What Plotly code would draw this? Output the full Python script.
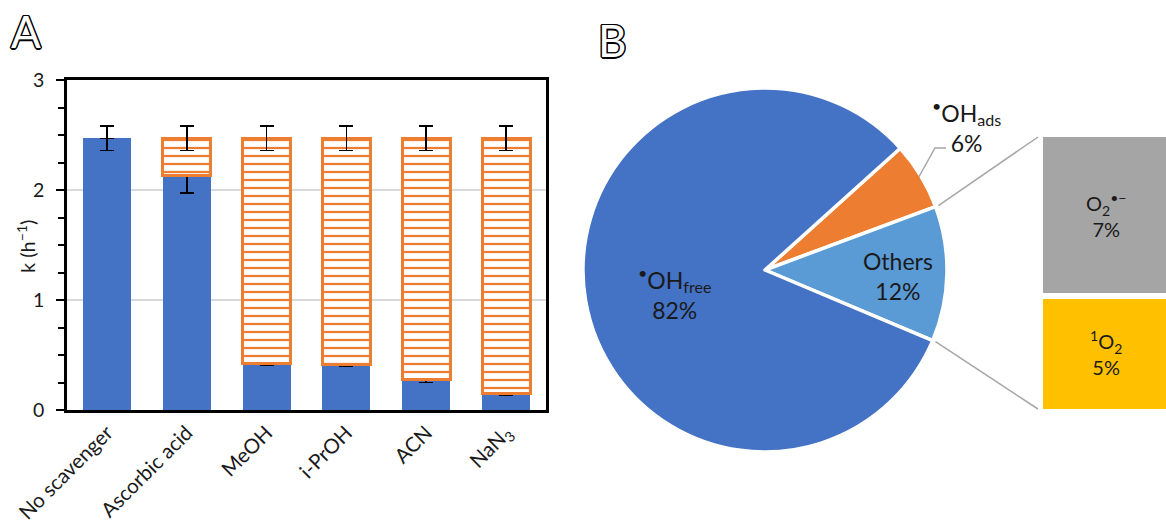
import numpy as np
import plotly.graph_objects as go

W, H = 1166, 525
FONT = "Lato"
TXT = "#1a1a1a"

# Panel A: rate constants k (h^-1) with and without scavengers
scavengers = ["No scavenger", "Ascorbic acid", "MeOH", "i-PrOH", "ACN", "NaN<sub>3</sub>"]
k_with_scavenger = [2.47, 2.13, 0.42, 0.41, 0.28, 0.15]
k_with_scavenger_err = [0.11, 0.155, 0.01, 0.01, 0.03, 0.015]
k_no_scavenger = [2.47, 2.47, 2.47, 2.47, 2.47, 2.47]
k_no_scavenger_err = [0.0, 0.11, 0.11, 0.11, 0.11, 0.11]
k_axis_title = "k (h<sup>−1</sup>)"

# Panel B: contribution of reactive species (%)
species_names = ["<sup>•</sup>OH<sub>ads</sub>", "Others", "<sup>•</sup>OH<sub>free</sub>"]
species_share = [6, 12, 82]
others_names = ["<sup>1</sup>O<sub>2</sub>", "O<sub>2</sub><sup>•−</sup>"]
others_share = [5, 7]

BLUE, ORANGE, LIGHTBLUE, GREY, GOLD = "#4472C4", "#ED7D31", "#5B9BD5", "#A5A5A5", "#FFC000"


def px(x):
    return x / W


def py(y):
    return 1 - y / H


quenched = np.subtract(k_no_scavenger, k_with_scavenger)
# no outline where there is no quenched part to draw
outline_w = [3 if q > 0 else 0 for q in quenched]

fig = go.Figure()

fig.add_trace(go.Bar(
    x=scavengers, y=k_with_scavenger, width=0.6,
    marker=dict(color=BLUE, line=dict(width=0)),
    error_y=dict(type="data", array=k_with_scavenger_err, color="black", thickness=1.6, width=7),
    hoverinfo="skip", showlegend=False,
))
fig.add_trace(go.Bar(
    x=scavengers, y=quenched, width=0.6,
    marker=dict(color="white", line=dict(color=ORANGE, width=outline_w),
                pattern=dict(shape="-", fgcolor=ORANGE, fgopacity=1, bgcolor="white",
                             size=8, solidity=0.28)),
    error_y=dict(type="data", array=k_no_scavenger_err, color="black", thickness=1.6, width=7),
    hoverinfo="skip", showlegend=False,
))

# Pie of reactive species
PIE_CX, PIE_CY, PIE_R = 765, 270, 182
ROT = 48
fig.add_trace(go.Pie(
    labels=["OH_ads", "Others", "OH_free"], values=species_share, sort=False,
    direction="clockwise", rotation=ROT,
    marker=dict(colors=[ORANGE, LIGHTBLUE, BLUE], line=dict(color="white", width=3.5)),
    textinfo="none", hoverinfo="skip", showlegend=False,
    domain=dict(x=[px(PIE_CX - PIE_R), px(PIE_CX + PIE_R)], y=[py(PIE_CY + PIE_R), py(PIE_CY - PIE_R)]),
))

# Breakdown of "Others" as a stacked column
fig.add_trace(go.Bar(
    x=[0], y=[others_share[0]], width=1, xaxis="x2", yaxis="y2",
    marker=dict(color=GOLD, line=dict(color="white", width=6)),
    hoverinfo="skip", showlegend=False,
))
fig.add_trace(go.Bar(
    x=[0], y=[others_share[1]], width=1, xaxis="x2", yaxis="y2",
    marker=dict(color=GREY, line=dict(color="white", width=6)),
    hoverinfo="skip", showlegend=False,
))

BOX_TOP, BOX_BOT, BOX_LEFT = 134, 412, 1040

fig.update_layout(
    width=W, height=H, margin=dict(l=0, r=0, t=0, b=0),
    paper_bgcolor="white", plot_bgcolor="white",
    barmode="stack",
    font=dict(family=FONT, color=TXT),
    xaxis=dict(
        domain=[px(67), px(546)], anchor="y", tickangle=-45, automargin=False,
        tickfont=dict(size=20.5, color=TXT), ticks="",
        showline=True, linecolor="black", linewidth=2.5, mirror=True,
    ),
    yaxis=dict(
        domain=[py(410), py(80)], anchor="x", range=[0, 3], dtick=1, automargin=False,
        tickfont=dict(size=19.5, color=TXT), ticklabelstandoff=8,
        ticks="outside", ticklen=8, tickwidth=2, tickcolor="black",
        minor=dict(dtick=0.25, ticks="outside", ticklen=6, tickwidth=2, tickcolor="black", showgrid=False),
        showgrid=True, gridcolor="#D9D9D9", gridwidth=2, zeroline=False,
        showline=True, linecolor="black", linewidth=2.5, mirror=True,
    ),
    xaxis2=dict(domain=[px(BOX_LEFT), 1], anchor="y2", range=[-0.5, 0.4], visible=False, automargin=False),
    yaxis2=dict(domain=[py(BOX_BOT), py(BOX_TOP)], anchor="x2", range=[0, sum(others_share)],
                visible=False, automargin=False),
)

# y-axis title placed beside the tick labels
fig.add_annotation(x=px(26), y=py(247), xref="paper", yref="paper", text=k_axis_title,
                   textangle=-90, showarrow=False, xanchor="center", yanchor="middle",
                   font=dict(size=20, color=TXT, family=FONT))

# Connectors from the "Others" slice to the breakdown column
others_start = ROT + 360 * species_share[0] / 100
others_end = others_start + 360 * species_share[1] / 100


def pie_point(angle_deg, r):
    a = np.deg2rad(angle_deg)
    return PIE_CX + r * np.sin(a), PIE_CY - r * np.cos(a)


x1, y1 = pie_point(others_start, PIE_R + 3)
x2, y2 = pie_point(others_end, PIE_R + 3)
connector = dict(type="line", xref="paper", yref="paper", line=dict(color="#A6A6A6", width=1.5))
fig.add_shape(**connector, x0=px(x1), y0=py(y1), x1=px(BOX_LEFT - 2), y1=py(BOX_TOP + 3))
fig.add_shape(**connector, x0=px(x2), y0=py(y2), x1=px(BOX_LEFT - 2), y1=py(BOX_BOT - 3))

# Leader line for the adsorbed OH label
mid_ads = ROT + 360 * species_share[0] / 200
lx, ly = pie_point(mid_ads, PIE_R - 2)
fig.add_shape(type="path", xref="paper", yref="paper",
              path=f"M {px(lx)},{py(ly)} L {px(935)},{py(148)} L {px(946)},{py(148)}",
              line=dict(color="#A6A6A6", width=1.5))


def label(x, y, text, size):
    fig.add_annotation(x=px(x), y=py(y), xref="paper", yref="paper", text=text,
                       showarrow=False, font=dict(size=size, color=TXT, family=FONT),
                       xanchor="center", yanchor="middle", align="center")


label(675, 293, f"{species_names[2]}<br>{species_share[2]}%", 23)
label(898, 276, f"{species_names[1]}<br>{species_share[1]}%", 23)
label(966, 127, f"{species_names[0]}<br>{species_share[0]}%", 23)
label(1106, 215, f"{others_names[1]}<br>{others_share[1]}%", 20)
label(1106, 353, f"{others_names[0]}<br>{others_share[0]}%", 20)

# Panel letters drawn as outlined glyphs
outline = ", ".join(f"{dx}px {dy}px 0 #000" for dx, dy in
                    [(-1.5, 0), (1.5, 0), (0, -1.5), (0, 1.5), (-1, -1), (1, -1), (-1, 1), (1, 1)])
for letter, lx_, ly_ in [("A", 26, 31), ("B", 612, 40)]:
    fig.add_annotation(x=px(lx_), y=py(ly_), xref="paper", yref="paper", text=letter,
                       showarrow=False, xanchor="center", yanchor="middle",
                       font=dict(size=44, color="white", family=FONT, shadow=outline))

fig.write_html("out.html")
